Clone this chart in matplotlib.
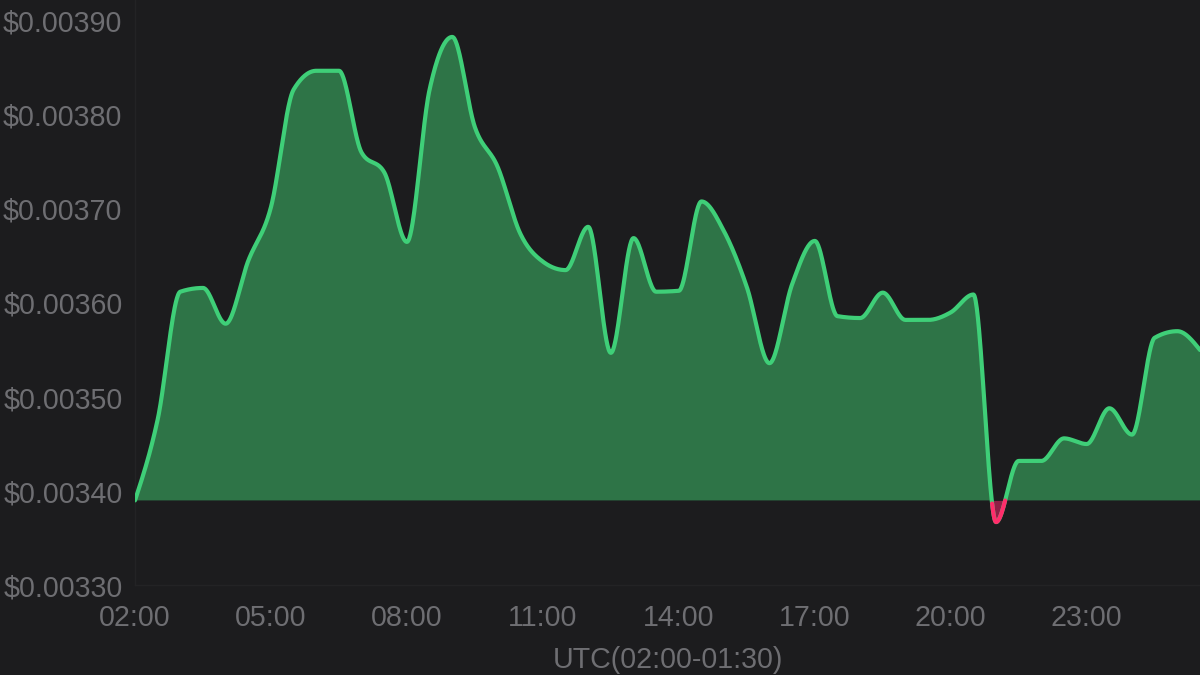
import numpy as np
import matplotlib
matplotlib.use('Agg')
import matplotlib.pyplot as plt
from matplotlib.ticker import FuncFormatter

# half-hourly prices, hours counted from 02:00 UTC
hours = [i * 0.5 for i in range(48)]
prices = [
    0.003390, 0.003476, 0.003612, 0.003616, 0.003578, 0.003645,
    0.003702, 0.003827, 0.003847, 0.003847, 0.003760, 0.003739,
    0.003665, 0.003827, 0.003883, 0.003787, 0.003745, 0.003674,
    0.003644, 0.003635, 0.003681, 0.003547, 0.003669, 0.003612,
    0.003613, 0.003708, 0.003676, 0.003617, 0.003536, 0.003620,
    0.003666, 0.003586, 0.003584, 0.003611, 0.003582, 0.003582,
    0.003590, 0.003609, 0.003367, 0.003432, 0.003432, 0.003456,
    0.003450, 0.003488, 0.003460, 0.003563, 0.003570, 0.003550,
]
y_ticks = [0.00330, 0.00340, 0.00350, 0.00360, 0.00370, 0.00380, 0.00390]
x_ticks = [0, 3, 6, 9, 12, 15, 18, 21]
x_labels = ['02:00', '05:00', '08:00', '11:00', '14:00', '17:00', '20:00', '23:00']

base = prices[0]

BG = '#1c1c1e'
GREEN = '#3fcf78'
GREEN_FILL = '#2e7447'
RED = '#ff2d6b'
RED_FILL = '#8e1f46'
TXT = '#6e6e72'


def monotone(x, y, n=40):
    # monotone cubic curve through the points (same idea as d3 curveMonotoneX)
    x = np.asarray(x, float)
    y = np.asarray(y, float)
    h = np.diff(x)
    s = np.diff(y) / h
    t = np.zeros_like(y)
    for i in range(1, len(y) - 1):
        p = (s[i - 1] * h[i] + s[i] * h[i - 1]) / (h[i - 1] + h[i])
        t[i] = (np.sign(s[i - 1]) + np.sign(s[i])) * min(abs(s[i - 1]), abs(s[i]), 0.5 * abs(p))
    t[0] = (3 * s[0] - t[1]) / 2
    t[-1] = (3 * s[-1] - t[-2]) / 2
    xs, ys = [], []
    for i in range(len(h)):
        u = np.linspace(0, 1, n, endpoint=(i == len(h) - 1))
        h00 = 2 * u**3 - 3 * u**2 + 1
        h10 = u**3 - 2 * u**2 + u
        h01 = -2 * u**3 + 3 * u**2
        h11 = u**3 - u**2
        xs.append(x[i] + u * h[i])
        ys.append(h00 * y[i] + h10 * h[i] * t[i] + h01 * y[i + 1] + h11 * h[i] * t[i + 1])
    return np.concatenate(xs), np.concatenate(ys)


cx, cy = monotone(hours, prices)

plt.rcParams['font.family'] = ['Liberation Sans', 'DejaVu Sans']

fig = plt.figure(figsize=(12, 6.75), dpi=100, facecolor=BG)
ax = fig.add_axes([0.1125, 0.1333, 0.8875, 0.8667])
ax.set_facecolor(BG)

ax.fill_between(cx, base, cy, where=cy >= base, interpolate=True, color=GREEN_FILL, lw=0)
ax.fill_between(cx, base, cy, where=cy < base, interpolate=True, color=RED_FILL, lw=0)

ax.plot(cx, cy, color=GREEN, lw=3, solid_capstyle='round', zorder=3)
red_y = np.where(cy <= base, cy, np.nan)
ax.plot(cx, red_y, color=RED, lw=3, solid_capstyle='round', zorder=4)

ax.set_xlim(0, 23.5)
ax.set_ylim(0.00330, 0.0039223)

ax.set_yticks(y_ticks)
ax.yaxis.set_major_formatter(FuncFormatter(lambda v, p: f'${v:.5f}'))
ax.set_xticks(x_ticks)
ax.set_xticklabels(x_labels)
ax.tick_params(length=0, labelsize=20.6, colors=TXT)
ax.tick_params(axis='y', pad=9)
ax.tick_params(axis='x', pad=13.5)
ax.set_xlabel('UTC(02:00-01:30)', fontsize=20.6, color=TXT, labelpad=10)

for side in ['top', 'right']:
    ax.spines[side].set_visible(False)
for side in ['left', 'bottom']:
    ax.spines[side].set_color('#232325')
    ax.spines[side].set_linewidth(1)

fig.savefig('out.png', dpi=100, facecolor=BG)
